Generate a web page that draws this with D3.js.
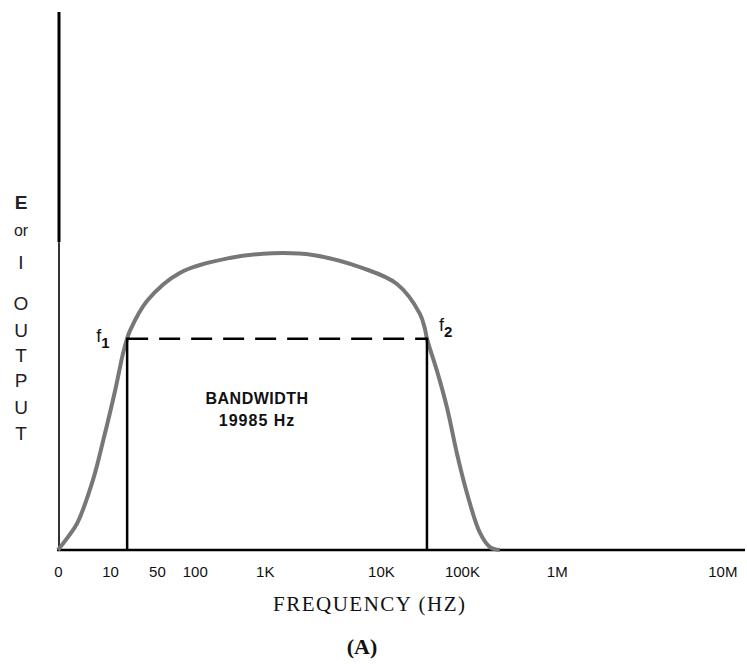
<!DOCTYPE html>
<html>
<head>
<meta charset="utf-8">
<script src="https://cdn.jsdelivr.net/npm/d3@7"></script>
<style>
  body { margin: 0; background: #fff; }
  .tick text { font-family: "Liberation Sans", Arial, sans-serif; font-size: 15px; fill: #111; }
</style>
</head>
<body>
<div id="chart"></div>
<script>
// frequency axis as printed on the figure
var tickHz = [0, 10, 50, 100, 1e3, 1e4, 1e5, 1e6, 1e7];
var tickLabels = ["0", "10", "50", "100", "1K", "10K", "100K", "1M", "10M"];

// response curve: frequency (Hz) and output relative to the peak
var curveHz = [0, 1.9, 3.7, 6.7, 8.7, 11.9, 15.6, 18, 19.8, 35.5, 76, 316, 1170, 2590,
               6990, 15800, 30300, 34900, 37000, 49100, 65300, 86700, 113000, 155000, 197000, 251000];
var curveLevel = [0, 0.043, 0.09, 0.233, 0.367, 0.533, 0.657, 0.707, 0.733, 0.833, 0.927, 0.977, 0.993, 0.987,
                  0.943, 0.89, 0.79, 0.74, 0.707, 0.6, 0.477, 0.323, 0.19, 0.057, 0.01, 0];

// half power points
var f1 = 18, f2 = 37000, cutoff = 0.707;
var bandText = ["BANDWIDTH", "19985 Hz"];
var yLetters = ["E", "or", "I", "O", "U", "T", "P", "U", "T"];

var margin = { top: 12, right: 2, bottom: 114, left: 58 },
    width = 747 - margin.left - margin.right,
    height = 664 - margin.top - margin.bottom;

// the printed axis is hand spaced, so ticks sit at these fractions of the width
var tickSpots = [0, 0.0757, 0.144, 0.199, 0.301, 0.470, 0.588, 0.726, 0.967];

// below 10 Hz linear, above it one unit per decade; then piecewise to the printed spacing
var lx = function(f) { return f < 10 ? f / 10 : 1 + Math.log10(f / 10); };
var x = d3.scaleLinear()
    .domain(tickHz.map(lx))
    .range(tickSpots.map(function(p) { return p * width; }));
var xf = function(f) { return x(lx(f)); };

var y = d3.scaleLinear().domain([0, 1.8]).range([height, 0]);

var svg = d3.select("#chart").append("svg")
    .attr("width", 747)
    .attr("height", 664);

var g = svg.append("g")
    .attr("transform", "translate(" + margin.left + "," + margin.top + ")");

// x axis
var xAxis = d3.axisBottom(x)
    .tickValues(tickHz.map(lx))
    .tickFormat(function(d, i) { return tickLabels[i]; })
    .tickSize(0)
    .tickPadding(16);

g.append("g")
    .attr("class", "x axis")
    .attr("transform", "translate(0," + height + ")")
    .call(xAxis)
    .call(function(s) { s.select(".domain").remove(); });

g.append("line")
    .attr("x1", -1).attr("x2", width)
    .attr("y1", height).attr("y2", height)
    .attr("stroke", "#000").attr("stroke-width", 2.5);

// y axis: heavier in its upper part as in the print
g.append("line")
    .attr("x1", 1).attr("x2", 1)
    .attr("y1", 0).attr("y2", y(1.03))
    .attr("stroke", "#000").attr("stroke-width", 3);
g.append("line")
    .attr("x1", 1).attr("x2", 1)
    .attr("y1", y(1.03)).attr("y2", height)
    .attr("stroke", "#000").attr("stroke-width", 1.6);

// response curve
var line = d3.line()
    .curve(d3.curveCatmullRom.alpha(0.5))
    .x(function(d) { return xf(d.hz); })
    .y(function(d) { return y(d.level); });

var pts = curveHz.map(function(h, i) { return { hz: h, level: curveLevel[i] }; });

g.append("path")
    .datum(pts)
    .attr("fill", "none")
    .attr("stroke", "#777")
    .attr("stroke-width", 4)
    .attr("stroke-linejoin", "round")
    .attr("d", line);

// bandwidth box
g.append("line")
    .attr("x1", xf(f1)).attr("x2", xf(f2))
    .attr("y1", y(cutoff)).attr("y2", y(cutoff))
    .attr("stroke", "#000").attr("stroke-width", 2.5)
    .attr("stroke-dasharray", "21,11");

[f1, f2].forEach(function(f) {
    g.append("line")
        .attr("x1", xf(f)).attr("x2", xf(f))
        .attr("y1", y(cutoff) - 1).attr("y2", height)
        .attr("stroke", "#000").attr("stroke-width", 2.5);
});

// f1 / f2 labels
var fLab = function(xx, yy, sub) {
    var t = g.append("text")
        .attr("x", xx).attr("y", yy)
        .style("font-family", "'Liberation Sans', Arial, sans-serif")
        .style("font-size", "18px")
        .attr("fill", "#111");
    t.append("tspan").text("f");
    t.append("tspan").attr("dy", 6).style("font-size", "15px").style("font-weight", "bold").text(sub);
};
fLab(xf(f1) - 31, y(cutoff) + 3, "1");
fLab(xf(f2) + 12, y(cutoff) - 8, "2");

// bandwidth text
g.selectAll(".band")
    .data(bandText)
    .enter().append("text")
    .attr("class", "band")
    .attr("x", (xf(f1) + xf(f2)) / 2 - 20)
    .attr("y", function(d, i) { return y(cutoff) + 65 + i * 22; })
    .attr("text-anchor", "middle")
    .style("font-family", "'Liberation Sans', Arial, sans-serif")
    .style("font-weight", "bold")
    .style("font-size", "16px")
    .style("letter-spacing", function(d, i) { return i ? "1px" : "0.5px"; })
    .attr("fill", "#111")
    .text(function(d) { return d; });

// y label, stacked letters
var yPos = [202, 229, 262, 303, 330, 355, 380, 407, 433];
svg.selectAll(".ylab")
    .data(yLetters)
    .enter().append("text")
    .attr("class", "ylab")
    .attr("x", 21)
    .attr("y", function(d, i) { return yPos[i] + 7; })
    .attr("text-anchor", "middle")
    .style("font-family", "'Liberation Sans', Arial, sans-serif")
    .style("font-size", function(d, i) { return i === 1 ? "16px" : "19px"; })
    .style("font-weight", function(d, i) { return i === 0 ? "bold" : "normal"; })
    .attr("fill", "#222")
    .text(function(d) { return d; });

// x title and caption
svg.append("text")
    .attr("x", 369).attr("y", 611)
    .attr("text-anchor", "middle")
    .style("font-family", "'Liberation Serif', 'Times New Roman', serif")
    .style("font-size", "21px")
    .attr("textLength", 192)
    .attr("fill", "#111")
    .text("FREQUENCY (HZ)");

svg.append("text")
    .attr("x", 362).attr("y", 654)
    .attr("text-anchor", "middle")
    .style("font-family", "'Liberation Serif', 'Times New Roman', serif")
    .style("font-size", "22px")
    .style("font-weight", "bold")
    .attr("fill", "#111")
    .text("(A)");
</script>
</body>
</html>
